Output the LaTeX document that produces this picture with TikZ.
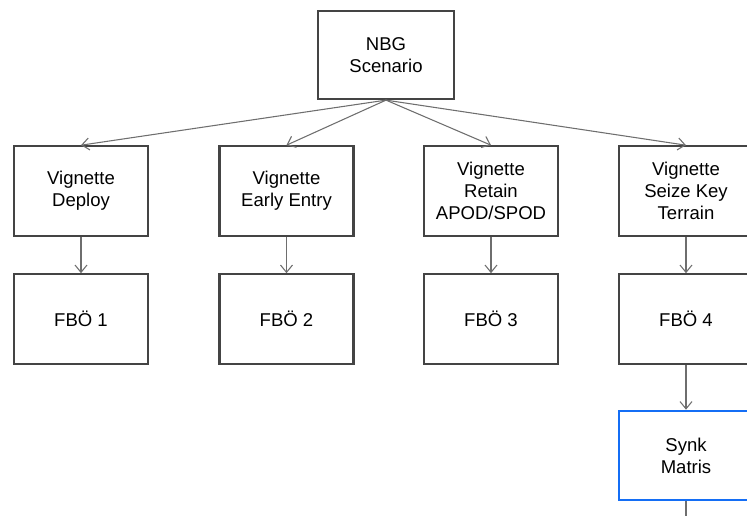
\documentclass[tikz,border=0pt]{standalone}
\usepackage{fontspec}
\setmainfont{Liberation Sans}
\usetikzlibrary{arrows.meta}
\definecolor{boxline}{RGB}{68,68,68}
\definecolor{conn}{RGB}{110,110,110}
\definecolor{synkblue}{RGB}{20,110,245}
\tikzset{
  box/.style={draw=boxline, line width=1.7pt, fill=white, align=center,
    minimum width=100.5pt, minimum height=67pt, inner sep=2pt,
    font=\fontsize{13.9pt}{16.4pt}\selectfont, text=black},
  topbox/.style={box, minimum width=102pt, minimum height=66pt},
  bluebox/.style={box, draw=synkblue},
  conline/.style={draw=conn, line width=0.8pt, -{Straight Barb[length=5.5pt, width=9pt, line width=0.8pt]}},
  plainline/.style={draw=conn, line width=0.8pt}
}
\begin{document}
\begin{tikzpicture}[x=0.75pt, y=-0.75pt]
\useasboundingbox (0,0) rectangle (747,516);
\clip (0,0) rectangle (747,516);
\node[topbox] (nbg) at (386,55) {NBG\\Scenario};
\node[box] (v1) at (81,191) {Vignette\\Deploy};
\node[box] (v2) at (286.5,191) {Vignette\\Early Entry};
\node[box] (v3) at (491,191) {Vignette\\Retain\\APOD/SPOD};
\node[box] (v4) at (686,191) {Vignette\\Seize Key\\Terrain};
\node[box] (f1) at (81,319) {FBÖ 1};
\node[box] (f2) at (286.5,319) {FBÖ 2};
\node[box] (f3) at (491,319) {FBÖ 3};
\node[box] (f4) at (686,319) {FBÖ 4};
\node[bluebox] (sm) at (686,455.5) {Synk\\Matris};
\coordinate (bend) at (686,520);
\foreach \v in {v1,v2,v3,v4} \draw[conline] (nbg.south) -- (\v.north);
\draw[conline] (v1) -- (f1);
\draw[conline] (v2) -- (f2);
\draw[conline] (v3) -- (f3);
\draw[conline] (v4) -- (f4);
\draw[conline] (f4) -- (sm);
\draw[plainline] (sm.south) -- (bend);
\end{tikzpicture}
\end{document}
